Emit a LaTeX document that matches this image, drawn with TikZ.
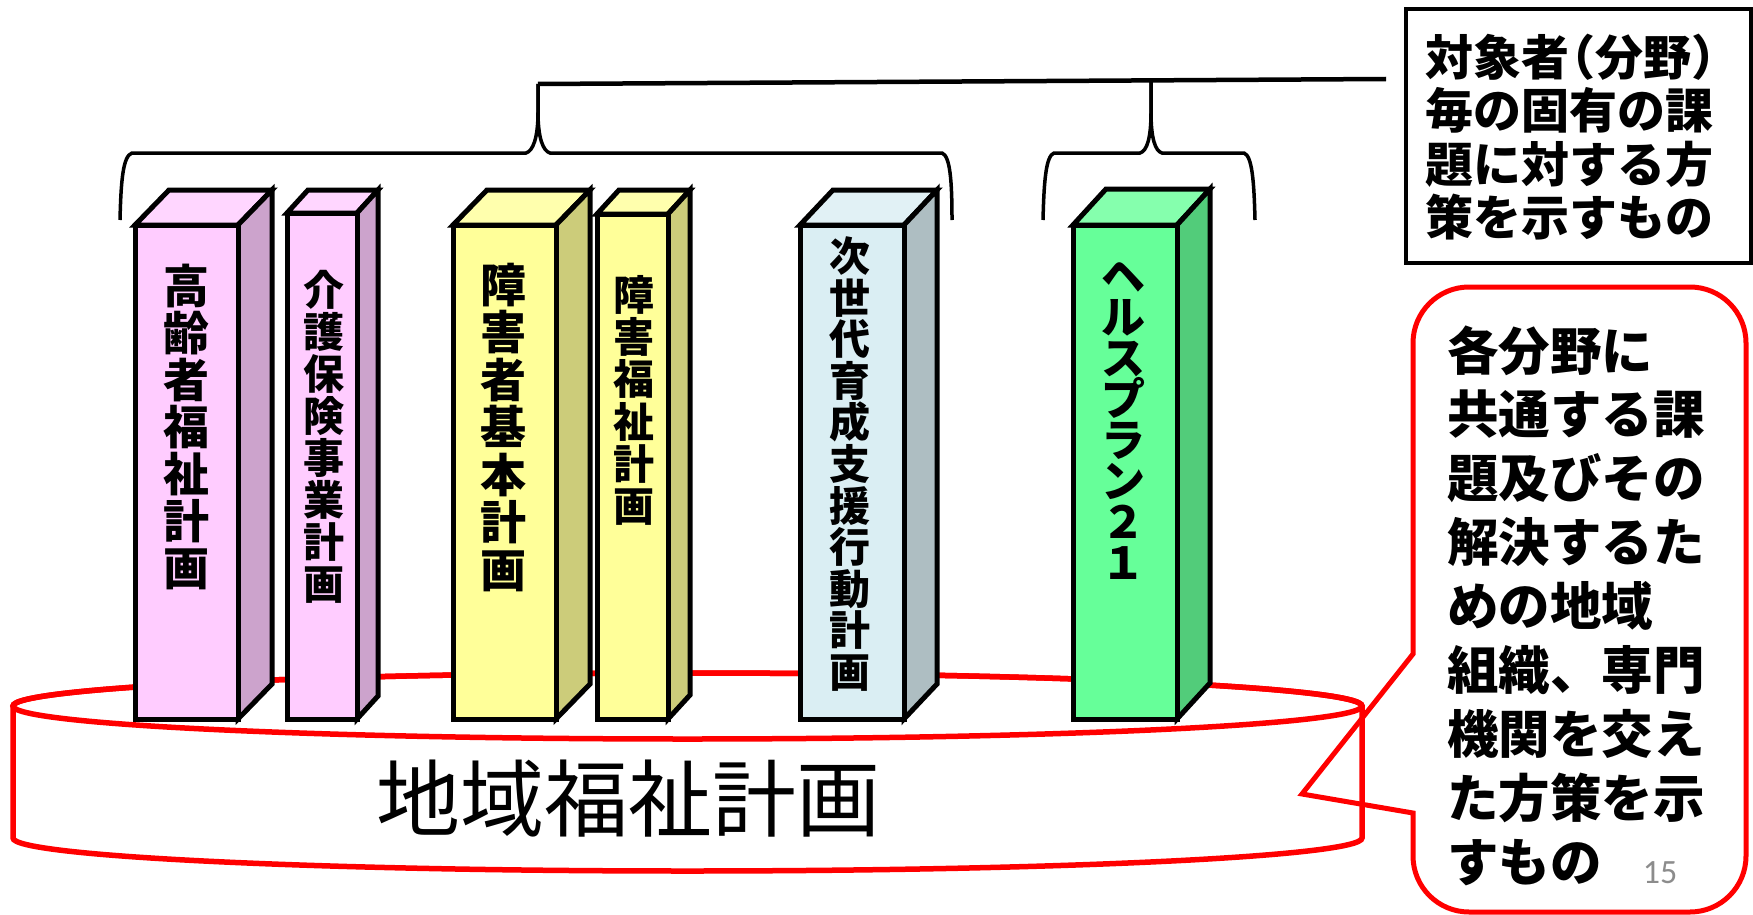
\documentclass[tikz,border=0pt]{standalone}
\usepackage{fontspec}
\newfontfamily\jp{Noto Sans CJK JP}
\newfontfamily\carl{Carlito}
\definecolor{pinkF}{RGB}{255,204,255}
\definecolor{pinkS}{RGB}{204,163,204}
\definecolor{pinkT}{RGB}{255,214,255}
\definecolor{yelF}{RGB}{255,255,153}
\definecolor{yelS}{RGB}{204,204,122}
\definecolor{yelT}{RGB}{255,255,173}
\definecolor{bluF}{RGB}{218,238,243}
\definecolor{bluS}{RGB}{174,190,194}
\definecolor{bluT}{RGB}{225,241,245}
\definecolor{grnF}{RGB}{102,255,153}
\definecolor{grnS}{RGB}{82,204,122}
\definecolor{grnT}{RGB}{133,255,173}
\definecolor{pgnum}{RGB}{140,140,140}
\newcommand{\prismbox}[9]{%
  \filldraw[boxline, fill=#9] (#1,#2) -- ({#1+#5},{#2-#6}) -- ({#3+#5},{#2-#6}) -- (#3,#2) -- cycle;
  \filldraw[boxline, fill=#8] (#3,#2) -- ({#3+#5},{#2-#6}) -- ({#3+#5},{#4-#6}) -- (#3,#4) -- cycle;
  \filldraw[boxline, fill=#7] (#1,#2) rectangle (#3,#4);
}
\newcommand{\jfs}[2]{\fontsize{#1}{#2}\selectfont\lineskiplimit=-100pt\relax}
\tikzset{
  boxline/.style={draw=black, line width=5pt, line join=miter},
  vlabel/.style={inner sep=0pt, align=center},
  bracestyle/.style={draw=black, line width=3.5pt},
  cyl/.style={draw=red, line width=5.5pt},
}
\begin{document}
\begin{tikzpicture}[x=1pt, y=-1pt]
\fill[white] (0,0) rectangle (1753,915);
\useasboundingbox (0,0) rectangle (1753,915);

% braces and connecting line
\coordinate (cusp1) at (538,84);
\coordinate (cusp2) at (1151,81);
\coordinate (lineend) at (1386,79);
\draw[bracestyle] (120,220) .. controls (121,180) and (123,156) .. (132,153)
  -- (526,153) .. controls (533,151) and (538,138) .. (538,112) -- (cusp1);
\draw[bracestyle] (cusp1) -- (538,112) .. controls (538,138) and (543,151) .. (550,153)
  -- (942,153) .. controls (950,156) and (952,180) .. (952,220);
\draw[bracestyle] (1043,220) .. controls (1044,180) and (1046,156) .. (1054,153)
  -- (1140,153) .. controls (1147,151) and (1151,138) .. (1151,112) -- (cusp2);
\draw[bracestyle] (cusp2) -- (1151,112) .. controls (1151,138) and (1155,151) .. (1162,153)
  -- (1244,153) .. controls (1252,156) and (1254,180) .. (1255,220);
\draw[line width=4.5pt] (cusp1) -- (lineend);

% top-right text box
\draw[line width=4.5pt] (1406,9) rectangle (1751,263);
\node[anchor=west, align=left, inner sep=0pt, font={\jp\bfseries\jfs{48}{53.5}}] (tbox) at (1425,137)
 {対象者\kern-.45em（分野）\kern-.45em\\毎の固有の課\\題に対する方\\策を示すもの};

% cylinder
\filldraw[cyl, fill=white] (13,706) -- (13,838)
  arc[start angle=180, end angle=360, x radius=674.5pt, y radius=33pt] -- (1362,706)
  arc[start angle=0, end angle=180, x radius=674.5pt, y radius=33pt] -- cycle;
\draw[cyl] (687.5,706) ellipse[x radius=674.5pt, y radius=33pt];
\node[inner sep=0pt, font={\jp\jfs{84}{84}}] (cyltext) at (628.5,799) {地域福祉計画};

% prisms
\prismbox{135}{225}{238}{719}{34}{35}{pinkF}{pinkS}{pinkT}
\prismbox{287}{213}{357}{719}{21}{23}{pinkF}{pinkS}{pinkT}
\prismbox{453}{225}{556}{719}{34}{35}{yelF}{yelS}{yelT}
\prismbox{597}{214}{668}{719}{22}{24}{yelF}{yelS}{yelT}
\prismbox{800}{225}{904}{719}{33}{35}{bluF}{bluS}{bluT}
\prismbox{1073}{225}{1177}{719}{33}{36}{grnF}{grnS}{grnT}

\node[vlabel, font={\jp\bfseries\jfs{46}{47}}] (l1) at (186.5,426.5) {高\\齢\\者\\福\\祉\\計\\画};
\node[vlabel, font={\jp\bfseries\jfs{41}{42}}] (l2) at (324,437) {介\\護\\保\\険\\事\\業\\計\\画};
\node[vlabel, font={\jp\bfseries\jfs{46}{47.5}}] (l3) at (503.5,427.5) {障\\害\\者\\基\\本\\計\\画};
\node[vlabel, font={\jp\bfseries\jfs{41}{42.2}}] (l4) at (634,400.5) {障\\害\\福\\祉\\計\\画};
\node[vlabel, font={\jp\bfseries\jfs{41}{41.6}}] (l5) at (850,464) {次\\世\\代\\育\\成\\支\\援\\行\\動\\計\\画};
\node[vlabel, font={\jp\bfseries\jfs{44}{41}}] (l6) at (1123,421) {ヘ\\ル\\ス\\プ\\ラ\\ン\\２\\１};

% callout
\draw[red, line width=5pt, line join=miter] (1413,654) -- (1413,343)
  arc[start angle=180, end angle=90, radius=56pt] -- (1690,287)
  arc[start angle=90, end angle=0, radius=56pt] -- (1746,856)
  arc[start angle=0, end angle=-90, radius=56pt] -- (1469,912)
  arc[start angle=270, end angle=180, radius=56pt] -- (1413,813)
  -- (1302,794) -- cycle;
\node[anchor=west, align=left, inner sep=0pt, font={\jp\bfseries\jfs{51.5}{63.9}}] (ctext) at (1447,605.5)
 {各分野に\\共通する課\\題及びその\\解決するた\\めの地域\\組織、専門\\機関を交え\\た方策を示\\すもの};
\node[inner sep=0pt, text=pgnum, font={\carl\fontsize{34}{34}\selectfont}] (pnum) at (1660,873) {15};
\end{tikzpicture}
\end{document}
